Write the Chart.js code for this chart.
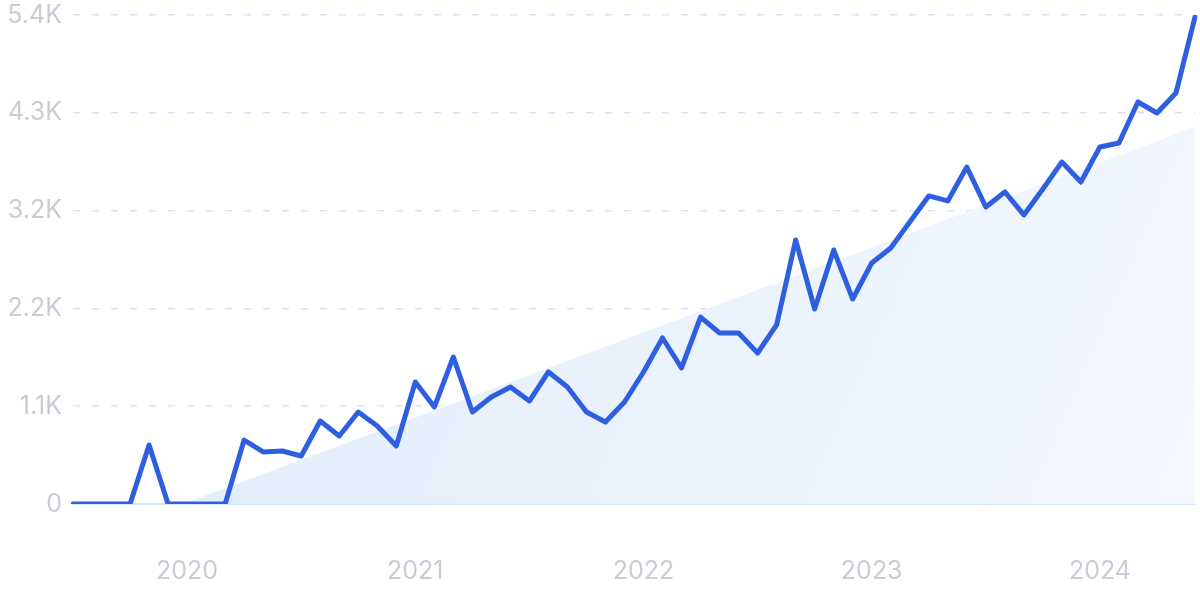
<!DOCTYPE html>
<html>
<head>
<meta charset="utf-8">
<script src="https://cdn.jsdelivr.net/npm/chart.js@4"></script>
<style>
  html, body { margin: 0; padding: 0; background: #fff; }
  #wrap { width: 1200px; height: 599px; }
</style>
</head>
<body>
<div id="wrap"><canvas id="trendChart"></canvas></div>
<script>
// months Jul 2019 .. Jun 2024
const months = [
    '2019-07','2019-08','2019-09','2019-10','2019-11','2019-12',
    '2020-01','2020-02','2020-03','2020-04','2020-05','2020-06','2020-07','2020-08','2020-09','2020-10','2020-11','2020-12',
    '2021-01','2021-02','2021-03','2021-04','2021-05','2021-06','2021-07','2021-08','2021-09','2021-10','2021-11','2021-12',
    '2022-01','2022-02','2022-03','2022-04','2022-05','2022-06','2022-07','2022-08','2022-09','2022-10','2022-11','2022-12',
    '2023-01','2023-02','2023-03','2023-04','2023-05','2023-06','2023-07','2023-08','2023-09','2023-10','2023-11','2023-12',
    '2024-01','2024-02','2024-03','2024-04','2024-05','2024-06'
];

// search volume
const volume = [
    0, 0, 0, 0, 649, 0,
    0, 0, 0, 703, 572, 583, 528, 912, 747, 1011, 857, 638,
    1341, 1066, 1616, 1011, 1176, 1286, 1132, 1451, 1286, 1011, 901, 1121,
    1451, 1825, 1495, 2055, 1880, 1880, 1660, 1968, 2902, 2143, 2792, 2253,
    2649, 2814, 3100, 3386, 3331, 3704, 3265, 3430, 3177, 3462, 3759, 3539,
    3924, 3968, 4419, 4298, 4518, 5353
];

// trend line: value at first and last month (below 0 is clipped away)
const trendStart = -450;
const trendEnd = 4144;

const yTickValues = [0, 1075, 2150, 3225, 4300, 5375];
const yTickLabels = ['0', '1.1K', '2.2K', '3.2K', '4.3K', '5.4K'];

const tickFont = { family: 'Inter, "Noto Sans", sans-serif', size: 25 };
const tickColor = '#cbcbd4';

function trendFill(context) {
    const area = context.chart.chartArea;
    if (!area) return 'rgba(226,237,251,0.9)';
    const g = context.chart.ctx.createLinearGradient(area.left, area.top, area.right, area.bottom);
    g.addColorStop(0, 'rgba(220,234,250,0.95)');
    g.addColorStop(1, 'rgba(242,247,254,0.9)');
    return g;
}

new Chart(document.getElementById('trendChart'), {
    type: 'line',
    data: {
        labels: months,
        datasets: [
            {
                label: 'Volume',
                data: volume,
                borderColor: '#2e5fe3',
                borderWidth: 5,
                borderJoinStyle: 'round',
                borderCapStyle: 'round',
                pointRadius: 0,
                tension: 0,
                fill: false,
                order: 0
            },
            {
                label: 'Trend',
                data: [
                    { x: months[0], y: trendStart },
                    { x: months[months.length - 1], y: trendEnd }
                ],
                borderWidth: 0,
                borderColor: 'rgba(0,0,0,0)',
                backgroundColor: trendFill,
                pointRadius: 0,
                fill: 'origin',
                order: 1
            }
        ]
    },
    options: {
        responsive: true,
        maintainAspectRatio: false,
        animation: false,
        layout: { padding: { top: 15, right: 5, bottom: 0, left: 0 } },
        plugins: {
            legend: { display: false },
            tooltip: { enabled: false }
        },
        scales: {
            x: {
                grid: { display: false, drawTicks: false },
                border: { display: true, color: '#d3e5f8', width: 2 },
                ticks: {
                    autoSkip: false,
                    maxRotation: 0,
                    padding: 52,
                    color: tickColor,
                    font: tickFont,
                    callback: function (value) {
                        const lab = this.getLabelForValue(value);
                        return lab.endsWith('-01') ? lab.slice(0, 4) : '';
                    }
                },
                afterFit: function (scale) {
                    scale.height = 95;
                    scale.paddingLeft = 0;
                    scale.paddingRight = 0;
                }
            },
            y: {
                min: 0,
                max: 5375,
                afterBuildTicks: function (scale) {
                    scale.ticks = yTickValues.map(v => ({ value: v }));
                },
                grid: { color: '#d6e3fb', lineWidth: 1.5, drawTicks: false },
                border: { display: false, dash: [7, 12] },
                ticks: {
                    padding: 11,
                    color: tickColor,
                    font: tickFont,
                    callback: function (value, index) { return yTickLabels[index]; }
                },
                afterFit: function (scale) {
                    scale.width = 73;
                    scale.paddingTop = 0;
                    scale.paddingBottom = 0;
                }
            }
        }
    }
});
</script>
</body>
</html>
